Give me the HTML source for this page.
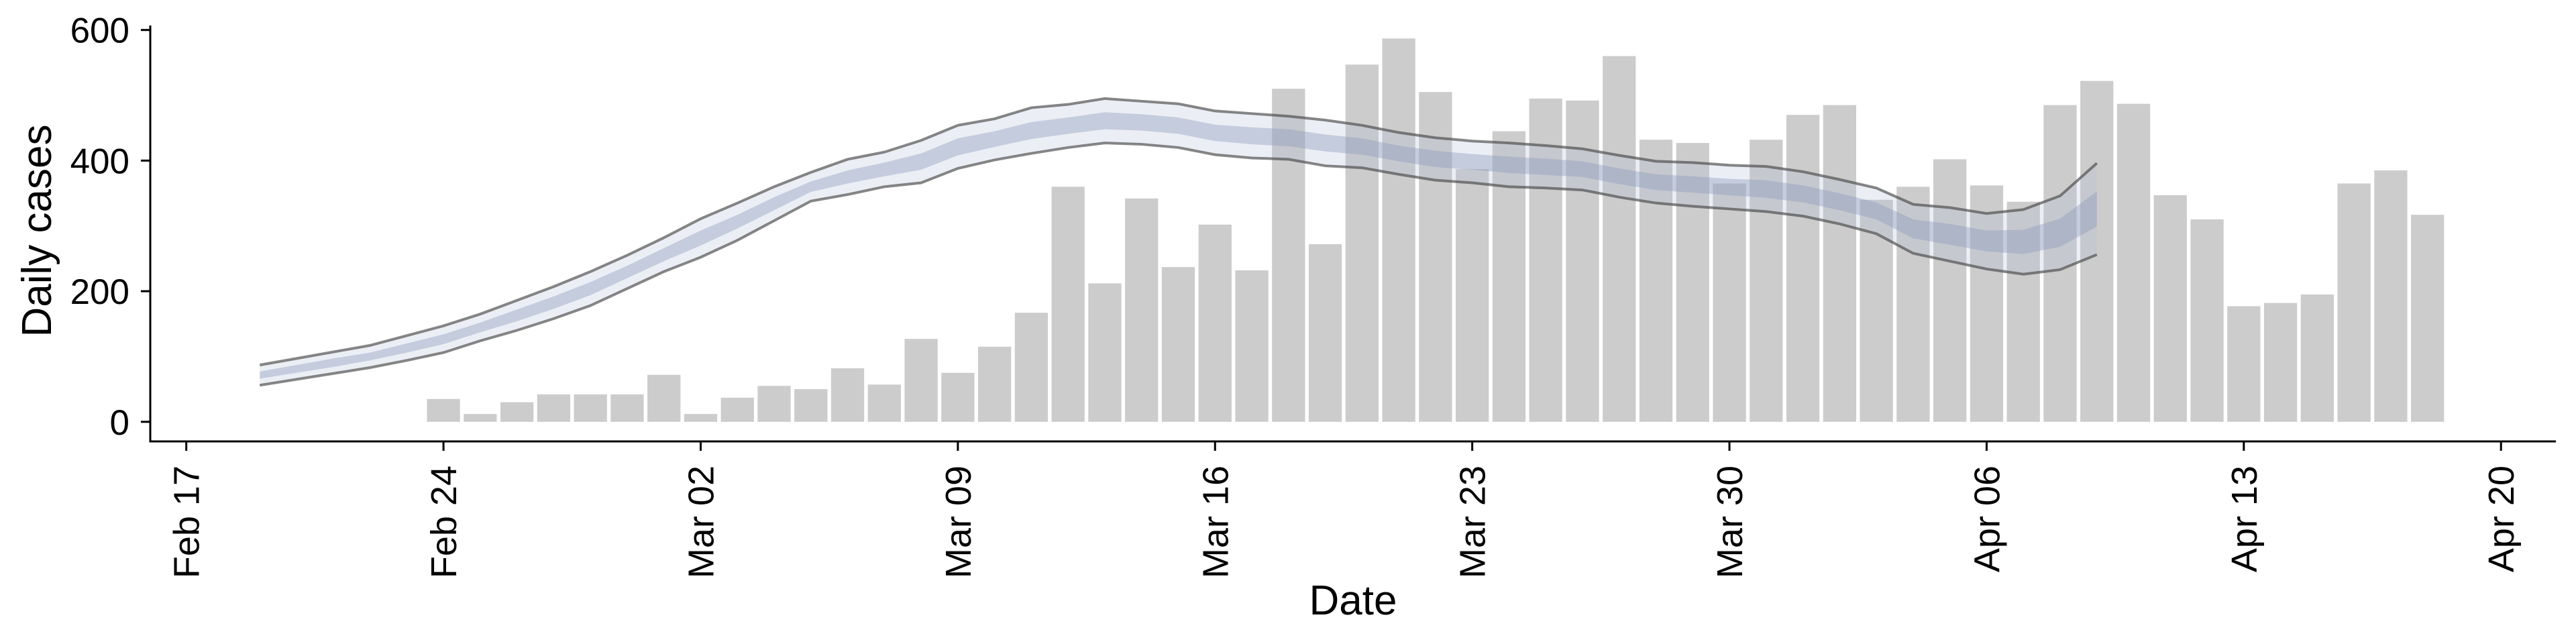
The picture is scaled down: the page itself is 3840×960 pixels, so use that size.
<!DOCTYPE html>
<html><head><meta charset="utf-8"><style>
html,body{margin:0;padding:0;background:#fff;width:3840px;height:960px;overflow:hidden}
svg text{font-family:"Liberation Sans",sans-serif;fill:#000}
</style></head><body>
<svg id="chart" width="3840" height="960" viewBox="0 0 3840 960" xmlns="http://www.w3.org/2000/svg">
<g id="bars"></g>
<g id="ribbon"></g>
<g id="axes"></g>
</svg>
<script>
// ---- data ----
const barStart = "2020-02-24";
const barValues = [35,12,30,42,42,42,72,12,37,55,50,82,57,127,75,115,167,360,212,342,237,302,232,510,272,547,587,505,387,445,495,492,560,432,427,365,432,470,485,340,360,402,362,337,485,522,487,347,310,177,182,195,365,385,317];
const ribbonStart = "2020-02-19";
const ribbonUpper = [87,97,107,117,132,147,165,186,207,230,255,282,311,335,360,382,402,413,431,454,464,481,486,495,491,487,476,472,468,462,454,443,435,430,427,423,418,408,399,397,393,391,383,371,358,333,328,319,325,346,396];
const ribbonLower = [56,65,74,83,94,106,124,140,158,178,204,230,252,278,308,338,348,360,366,388,401,411,420,427,425,420,409,404,402,392,389,379,370,366,360,358,355,344,335,330,326,322,315,303,288,258,246,234,226,233,256];
const innerUpper = [77,87,97,106,120,134,152,172,192,214,239,266,293,317,344,368,385,397,411,434,445,459,466,474,471,466,455,451,448,440,434,423,415,410,406,403,399,388,379,376,372,370,362,350,336,310,303,293,294,311,353];
const innerLower = [66,75,84,94,106,119,137,154,173,194,220,246,270,296,324,352,365,376,386,408,421,433,441,448,446,441,430,425,422,414,409,399,390,386,381,378,375,364,355,351,347,343,336,324,310,281,271,261,257,268,299];
const yTicks = [0,200,400,600];
const xTickDates = ["2020-02-17","2020-02-24","2020-03-02","2020-03-09","2020-03-16","2020-03-23","2020-03-30","2020-04-06","2020-04-13","2020-04-20"];
const xTickLabels = ["Feb 17","Feb 24","Mar 02","Mar 09","Mar 16","Mar 23","Mar 30","Apr 06","Apr 13","Apr 20"];

// ---- scales ----
const DAY = 86400000;
const origin = Date.UTC(2020,1,17);
const pxPerDay = 54.77, x0 = 277.7;
function dayIndex(s){const p=s.split('-');return (Date.UTC(+p[0],+p[1]-1,+p[2])-origin)/DAY;}
function xScale(d){return x0 + d*pxPerDay;}
function yScale(v){return 628.8 - v*0.9735;}
const NS="http://www.w3.org/2000/svg";
function mk(tag,attrs,parent){const e=document.createElementNS(NS,tag);for(const k in attrs)e.setAttribute(k,attrs[k]);parent.appendChild(e);return e;}

// ---- bars ----
const gb=document.getElementById('bars');
const bs=dayIndex(barStart), bw=pxPerDay*0.9;
barValues.forEach((v,i)=>{
  const cx=xScale(bs+i);
  const r=mk('rect',{x:cx-bw/2,y:yScale(v),width:bw,height:yScale(0)-yScale(v),fill:'#cccccc'},gb);
  
  
});

// ---- ribbon ----
const gr=document.getElementById('ribbon');
const rs=dayIndex(ribbonStart);
function band(up,lo){
  let d='';up.forEach((v,i)=>{d+=(i?'L':'M')+xScale(rs+i)+' '+yScale(v);});
  for(let i=lo.length-1;i>=0;i--)d+='L'+xScale(rs+i)+' '+yScale(lo[i]);
  return d+'Z';
}
function line(arr){let d='';arr.forEach((v,i)=>{d+=(i?'L':'M')+xScale(rs+i)+' '+yScale(v);});return d;}
const ob=mk('path',{d:band(ribbonUpper,ribbonLower),fill:'rgb(176,186,210)','fill-opacity':0.25},gr);


const ib=mk('path',{d:band(innerUpper,innerLower),fill:'rgb(140,152,190)','fill-opacity':0.4},gr);


const ul=mk('path',{d:line(ribbonUpper),fill:'none',stroke:'rgb(70,70,70)','stroke-opacity':0.65,'stroke-width':4},gr);


const ll=mk('path',{d:line(ribbonLower),fill:'none',stroke:'rgb(70,70,70)','stroke-opacity':0.65,'stroke-width':4},gr);



// ---- axes ----
const ga=document.getElementById('axes');
const ya=mk('line',{x1:224,y1:38,x2:224,y2:659.5,stroke:'#000','stroke-width':3},ga);


const xa=mk('line',{x1:222.5,y1:658,x2:3810,y2:658,stroke:'#000','stroke-width':3},ga);


yTicks.forEach(v=>{
  const y=yScale(v);
  const t=mk('line',{x1:210,y1:y,x2:224,y2:y,stroke:'#000','stroke-width':3},ga);
  
  
  const l=mk('text',{x:193,y:y+19,'text-anchor':'end','font-size':53},ga);
  l.textContent=String(v);
  
  
});
xTickDates.forEach((s,i)=>{
  const x=xScale(dayIndex(s));
  const t=mk('line',{x1:x,y1:658,x2:x,y2:672,stroke:'#000','stroke-width':3},ga);
  
  
  const l=mk('text',{x:0,y:0,'text-anchor':'end','font-size':54,transform:'translate('+(x+19)+',694) rotate(-90)'},ga);
  l.textContent=xTickLabels[i];
  
  
});
const xt=mk('text',{x:2017,y:916,'text-anchor':'middle','font-size':62},ga);
xt.textContent='Date';


const yt=mk('text',{x:0,y:0,'text-anchor':'middle','font-size':62,transform:'translate(76,344) rotate(-90)'},ga);
yt.textContent='Daily cases';


</script>
</body></html>
